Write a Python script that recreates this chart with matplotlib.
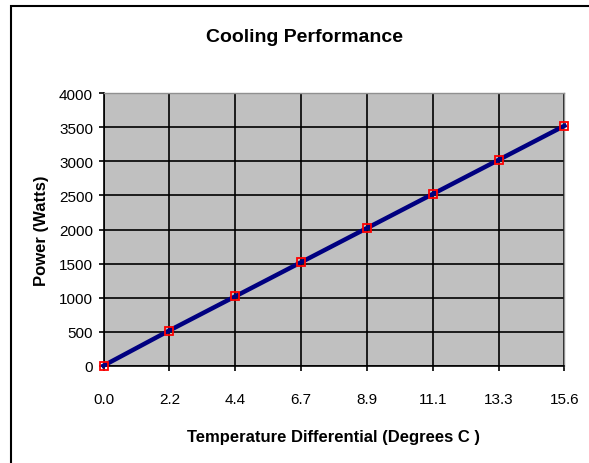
import matplotlib
matplotlib.use("Agg")
import matplotlib.pyplot as plt
from matplotlib.patches import Rectangle

plt.rcParams['font.family'] = ['Liberation Sans', 'DejaVu Sans']

# data
temp_labels = ["0.0", "2.2", "4.4", "6.7", "8.9", "11.1", "13.3", "15.6"]
power_watts = [5, 520, 1020, 1520, 2020, 2520, 3020, 3520]
y_ticks = [0, 500, 1000, 1500, 2000, 2500, 3000, 3500, 4000]

W, H = 589, 464
fig = plt.figure(figsize=(W / 100, H / 100), dpi=100)

# outer chart border (only left/top visible in the original)
fig.patches.append(Rectangle((11 / W, -0.05), 1.2, 1 - 7 / H + 0.05,
                             transform=fig.transFigure, fill=False,
                             edgecolor="black", linewidth=1.5))

left, right, top, bottom = 103.5, 564.5, 94, 367
ax = fig.add_axes([left / W, 1 - bottom / H, (right - left) / W, (bottom - top) / H])
ax.set_facecolor("#c0c0c0")

xs = list(range(len(temp_labels)))
ax.plot(xs, power_watts, color="#000080", linewidth=3.2, zorder=3, clip_on=False)
ax.plot(xs, power_watts, linestyle="none", marker="s", markersize=5.5,
        markerfacecolor="none", markeredgecolor="red", markeredgewidth=1.3,
        zorder=4, clip_on=False)

ax.set_xlim(0, len(temp_labels) - 1)
ax.set_ylim(0, 4000)
ax.set_xticks(xs)
ax.set_xticklabels(temp_labels)
ax.set_yticks(y_ticks)
ax.grid(True, color="black", linewidth=1.2)
ax.set_axisbelow(True)

for s in ["top", "right"]:
    ax.spines[s].set_color("#909090")
    ax.spines[s].set_linewidth(1)
for s in ["left", "bottom"]:
    ax.spines[s].set_color("black")
    ax.spines[s].set_linewidth(1.2)

ax.tick_params(axis="both", labelsize=11, length=3.5, width=1.2, color="black")
ax.tick_params(axis="y", pad=4)
ax.tick_params(axis="x", pad=15)

ax.set_xlabel("Temperature Differential (Degrees C )", fontsize=12,
              fontweight="bold", labelpad=17)
ax.set_ylabel("Power (Watts)", fontsize=12, fontweight="bold", labelpad=7)
fig.text(305 / W, 1 - 38 / H, "Cooling Performance",
         ha="center", va="center", fontsize=14, fontweight="bold")

fig.savefig("out.png", dpi=100)
